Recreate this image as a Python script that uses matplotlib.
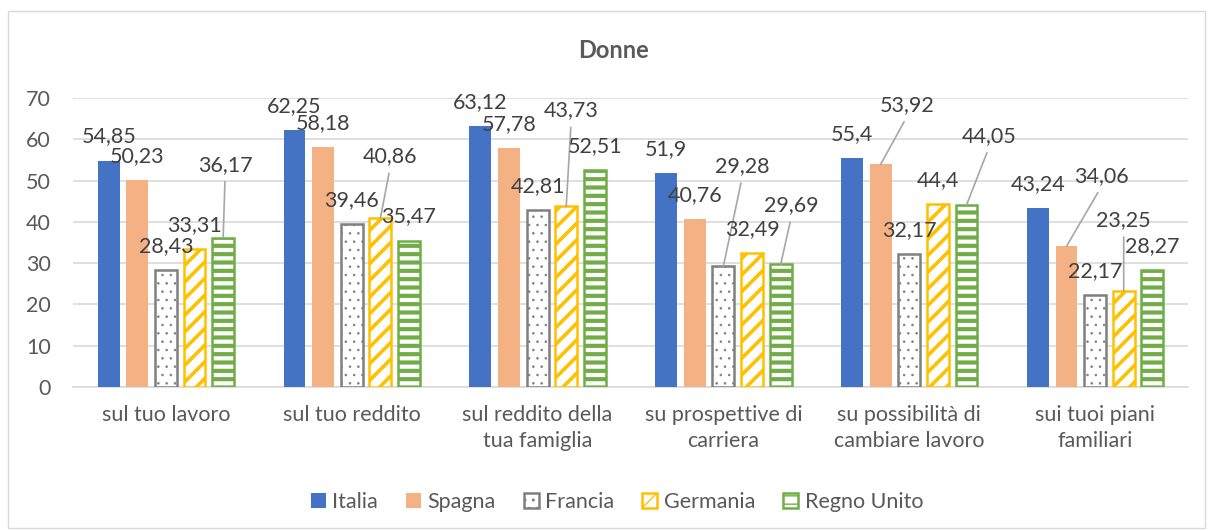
import numpy as np
import matplotlib
matplotlib.use("Agg")
import matplotlib.pyplot as plt
from matplotlib.patches import Rectangle

plt.rcParams['font.family'] = ['Lato', 'DejaVu Sans']

# dati
categorie = ["sul tuo lavoro", "sul tuo reddito", "sul reddito della\ntua famiglia",
             "su prospettive di\ncarriera", "su possibilità di\ncambiare lavoro",
             "sui tuoi piani\nfamiliari"]
paesi = ["Italia", "Spagna", "Francia", "Germania", "Regno Unito"]

italia = [54.85, 62.25, 63.12, 51.9, 55.4, 43.24]
spagna = [50.23, 58.18, 57.78, 40.76, 53.92, 34.06]
francia = [28.43, 39.46, 42.81, 29.28, 32.17, 22.17]
germania = [33.31, 40.86, 43.73, 32.49, 44.4, 23.25]
regno_unito = [36.17, 35.47, 52.51, 29.69, 44.05, 28.27]
valori = [italia, spagna, francia, germania, regno_unito]

# stile delle serie: (riempimento, bordo, tratteggio, spessore tratteggio)
stili = [
    ("#4472C4", "none", None, 1.0),
    ("#F4B183", "none", None, 1.0),
    ("white", "#7F7F7F", "..", 0.6),
    ("white", "#FFC000", "//", 2.6),
    ("white", "#70AD47", "--", 3.0),
]

# etichette spostate (serie, gruppo) -> (dx, dy) in pixel rispetto alla cima della barra
spostamenti = {
    (1, 4): (27, 59), (1, 5): (35, 70),
    (2, 3): (19, 100),
    (3, 1): (10, 62), (3, 2): (5, 96), (3, 5): (0, 71),
    (4, 0): (2, 73), (4, 3): (11, 59), (4, 4): (23, 69),
}

fs = 15.5

fig = plt.figure(figsize=(12.1, 5.31), dpi=100)
ax = fig.add_axes([73 / 1210, 1 - 387 / 531, (1188 - 73) / 1210, (387 - 98) / 531])

x = np.arange(len(categorie))
passo = 0.154
larghezza = 0.118

for i, (paese, serie) in enumerate(zip(paesi, valori)):
    fc, ec, hatch, hlw = stili[i]
    pos = x + (i - 2) * passo
    with plt.rc_context({'hatch.linewidth': hlw}):
        bars = ax.bar(pos, serie, width=larghezza, color=fc, edgecolor=ec,
                      hatch=hatch, linewidth=1.8 if ec != "none" else 0,
                      label=paese, zorder=3)
    for j, v in enumerate(serie):
        dx, dy = spostamenti.get((i, j), (0, 24))
        testo = f"{v:g}".replace(".", ",")
        if dy > 40:
            ax.annotate(testo, xy=(pos[j], v), xytext=(dx, dy), textcoords="offset pixels",
                        ha="center", va="center", fontsize=fs, color="#404040", zorder=5,
                        arrowprops=dict(arrowstyle="-", color="#A6A6A6", lw=1.2,
                                        shrinkA=-3, shrinkB=0, relpos=(0.5, 0.0)))
        else:
            ax.annotate(testo, xy=(pos[j], v), xytext=(dx, dy), textcoords="offset pixels",
                        ha="center", va="center", fontsize=fs, color="#404040", zorder=5)

ax.set_xlim(-0.5, 5.5)
ax.set_ylim(0, 70)
ax.set_yticks(range(0, 71, 10))
ax.set_xticks(x)
ax.set_xticklabels(categorie, fontsize=fs, color="#595959", linespacing=1.35)
ax.tick_params(axis="x", length=0, pad=13)
ax.tick_params(axis="y", length=0, pad=16, labelsize=fs, labelcolor="#595959")
ax.grid(axis="y", color="#D9D9D9", linewidth=1.2, zorder=0)
ax.set_axisbelow(True)
for s in ["left", "right", "top"]:
    ax.spines[s].set_visible(False)
ax.spines["bottom"].set_color("#D9D9D9")
ax.spines["bottom"].set_linewidth(1.2)

fig.text(0.507, 1 - 50 / 531, "Donne", ha="center", va="center",
         fontsize=17, fontweight="bold", color="#595959")

leg = fig.legend(loc="center", bbox_to_anchor=(617 / 1210, 1 - 502 / 531), ncol=5,
                 frameon=False, fontsize=fs, handlelength=0.7, handleheight=0.7,
                 handletextpad=0.3, columnspacing=1.3)
for t in leg.get_texts():
    t.set_color("#595959")

fig.add_artist(Rectangle((8 / 1210, 3 / 531), 1197 / 1210, 517 / 531,
                         transform=fig.transFigure, fill=False,
                         edgecolor="#D9D9D9", linewidth=1))

plt.savefig("out.png", dpi=100)
